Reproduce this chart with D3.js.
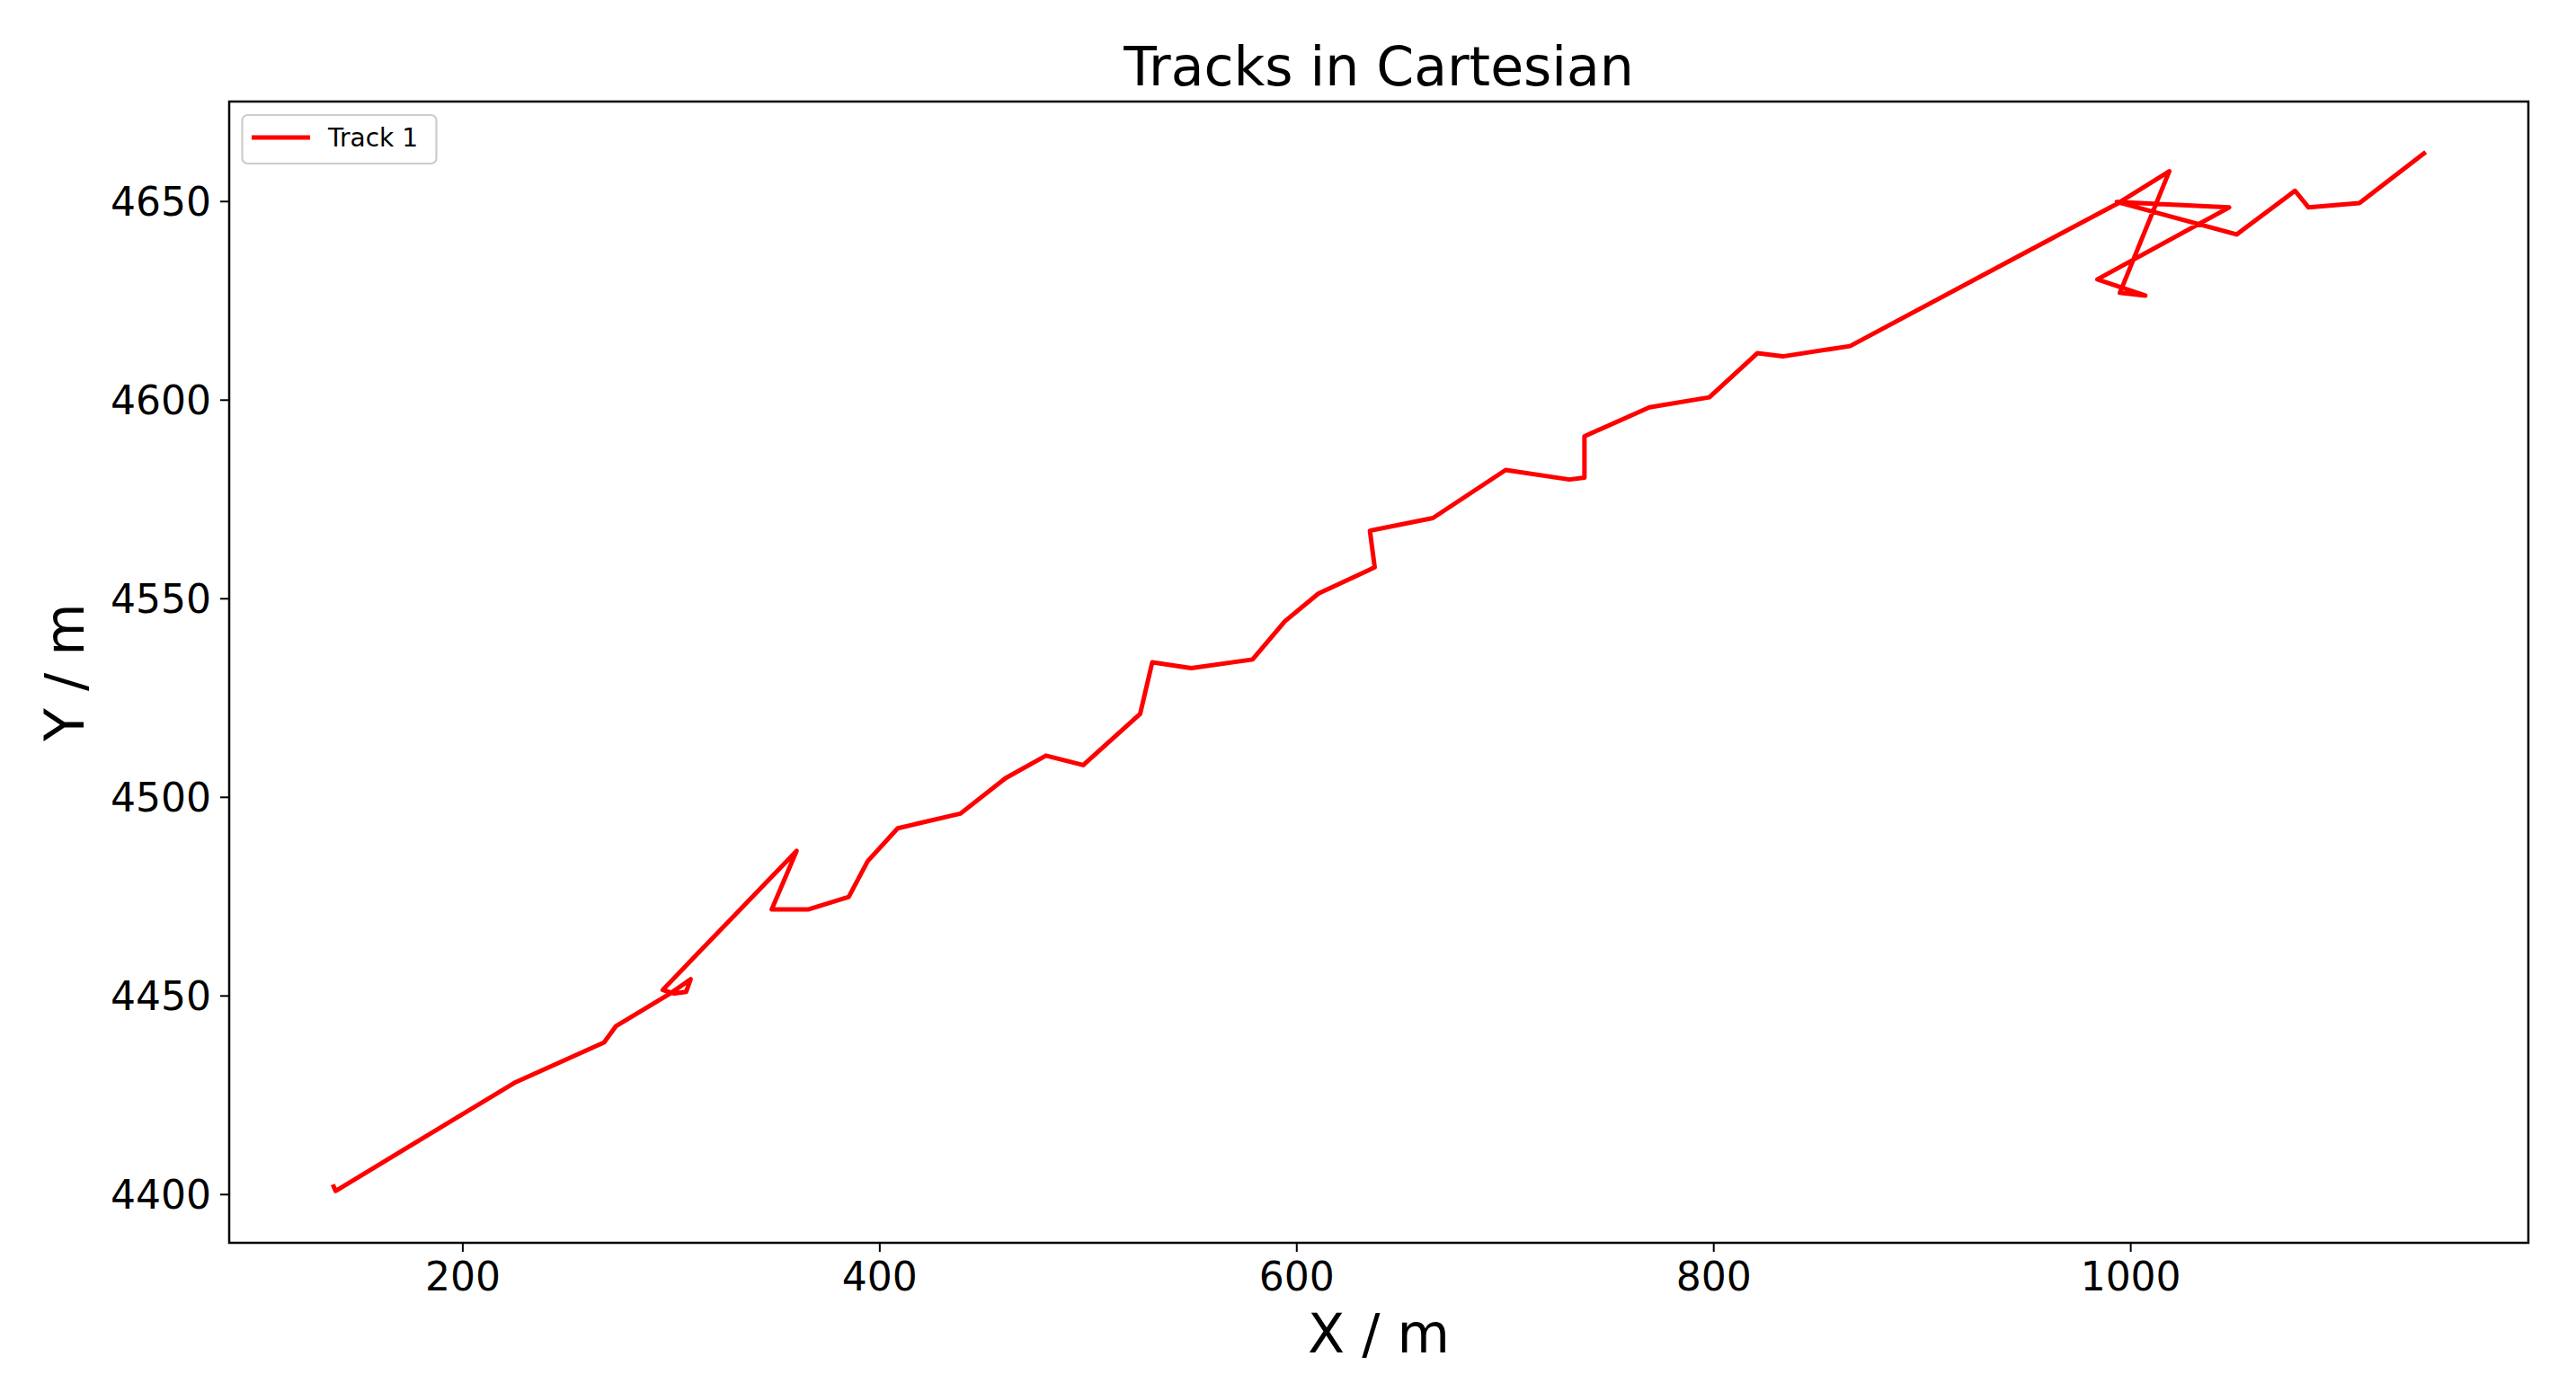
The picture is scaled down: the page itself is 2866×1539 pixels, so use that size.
<!DOCTYPE html>
<html lang="en">
<head>
    <meta charset="utf-8">
    <title>Tracks in Cartesian</title>
    <script src="https://d3js.org/d3.v7.min.js" charset="utf-8"></script>
    <style>
        body { margin: 0; background: #fff; }
        svg { display: block; font-family: "DejaVu Sans", sans-serif; }
    </style>
</head>

<body>

<div id="chart"></div>

<script type="text/javascript">
// track 1
var trackX = [138.3, 139.2, 224.9, 268.0, 273.7, 300.0, 309.5, 307.3, 301.7, 296.1,
              360.3, 348.4, 366.1, 385.3, 394.4, 408.8, 438.9, 460.5, 479.9, 497.8,
              525.1, 530.9, 549.6, 579.0, 594.5, 610.6, 637.6, 635.3, 665.5, 700.4,
              731.0, 738.2, 738.2, 769.4, 798.1, 821.1, 833.3, 865.6, 943.0, 994.3,
              1018.7, 995.0, 1007.2, 984.2, 1047.4, 993.5, 1051.0, 1079.0, 1085.5, 1109.9,
              1140.8];
var trackY = [4401.9, 4400.8, 4428.0, 4438.2, 4442.3, 4450.6, 4454.1, 4450.9, 4450.5, 4451.4,
              4486.4, 4471.7, 4471.7, 4474.8, 4483.8, 4492.1, 4495.8, 4504.7, 4510.4, 4508.0,
              4520.9, 4533.9, 4532.4, 4534.6, 4544.2, 4551.2, 4557.8, 4567.0, 4570.2, 4582.3,
              4579.9, 4580.4, 4590.8, 4598.1, 4600.6, 4611.7, 4610.9, 4613.5, 4635.2, 4649.5,
              4657.5, 4626.9, 4626.2, 4630.3, 4648.4, 4649.8, 4641.6, 4652.6, 4648.4, 4649.5,
              4662.0];

var xTicks = [200, 400, 600, 800, 1000];
var yTicks = [4400, 4450, 4500, 4550, 4600, 4650];

var seriesName = "Track 1";
var titleText = "Tracks in Cartesian";
var xLabel = "X / m";
var yLabel = "Y / m";
</script>

<script type="text/javascript">
var width = 2866,
    height = 1539;

var plot = { left: 255, right: 2813, top: 113, bottom: 1383 };

var svg = d3.select("#chart")
            .append("svg")
            .attr("width", width)
            .attr("height", height);

svg.append("rect")
   .attr("width", width)
   .attr("height", height)
   .attr("fill", "#fff");

// matplotlib style autoscale: 5% margin on each side
function padded(values) {
    var ext = d3.extent(values);
    var pad = (ext[1] - ext[0]) * 0.05;
    return [ext[0] - pad, ext[1] + pad];
}

var x = d3.scaleLinear()
          .domain(padded(trackX))
          .range([plot.left, plot.right]);

var y = d3.scaleLinear()
          .domain(padded(trackY))
          .range([plot.bottom, plot.top]);

var points = trackX.map(function(d, i) { return [d, trackY[i]]; });

var line = d3.line()
             .x(function(d) { return x(d[0]); })
             .y(function(d) { return y(d[1]); });

svg.append("path")
   .datum(points)
   .attr("d", line)
   .attr("fill", "none")
   .attr("stroke", "#ff0000")
   .attr("stroke-width", 5)
   .attr("stroke-linejoin", "round")
   .attr("stroke-linecap", "square");

// axes
var xAxis = svg.append("g")
               .attr("transform", "translate(0," + plot.bottom + ")")
               .call(d3.axisBottom(x)
                       .tickValues(xTicks)
                       .tickFormat(d3.format("d"))
                       .tickSize(10)
                       .tickPadding(8));

var yAxis = svg.append("g")
               .attr("transform", "translate(" + plot.left + ",0)")
               .call(d3.axisLeft(y)
                       .tickValues(yTicks)
                       .tickFormat(d3.format("d"))
                       .tickSize(10)
                       .tickPadding(10));

[xAxis, yAxis].forEach(function(g) {
    g.select(".domain").remove();
    g.selectAll(".tick line")
     .attr("stroke", "#000")
     .attr("stroke-width", 2);
    g.selectAll(".tick text")
     .attr("fill", "#000")
     .style("font-family", "DejaVu Sans")
     .style("font-size", "44px");
});

xAxis.selectAll(".tick text")
     .attr("y", 22)
     .attr("dy", "0.71em");

yAxis.selectAll(".tick text")
     .attr("dy", "0.36em");

// frame
svg.append("rect")
   .attr("x", plot.left)
   .attr("y", plot.top)
   .attr("width", plot.right - plot.left)
   .attr("height", plot.bottom - plot.top)
   .attr("fill", "none")
   .attr("stroke", "#000")
   .attr("stroke-width", 2.5);

// labels
svg.append("text")
   .attr("x", (plot.left + plot.right) / 2)
   .attr("y", 95)
   .attr("text-anchor", "middle")
   .style("font-size", "60px")
   .text(titleText);

svg.append("text")
   .attr("x", (plot.left + plot.right) / 2)
   .attr("y", 1505)
   .attr("text-anchor", "middle")
   .style("font-size", "60px")
   .text(xLabel);

svg.append("text")
   .attr("transform", "translate(93," + (plot.top + plot.bottom) / 2 + ") rotate(-90)")
   .attr("text-anchor", "middle")
   .style("font-size", "60px")
   .text(yLabel);

// legend
var legend = svg.append("g");

legend.append("rect")
      .attr("x", 269.5)
      .attr("y", 128)
      .attr("width", 216)
      .attr("height", 54)
      .attr("rx", 6)
      .attr("fill", "#fff")
      .attr("fill-opacity", 0.8)
      .attr("stroke", "#cccccc")
      .attr("stroke-width", 2.2);

legend.append("line")
      .attr("x1", 280)
      .attr("x2", 345)
      .attr("y1", 153)
      .attr("y2", 153)
      .attr("stroke", "#ff0000")
      .attr("stroke-width", 5);

legend.append("text")
      .attr("x", 365)
      .attr("y", 163)
      .style("font-size", "28px")
      .text(seriesName);
</script>

</body>

</html>
